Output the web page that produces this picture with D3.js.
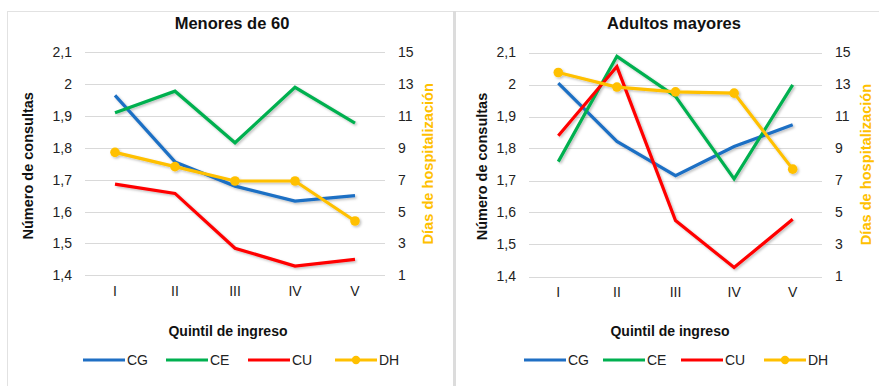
<!DOCTYPE html>
<html><head><meta charset="utf-8">
<script src="https://cdn.jsdelivr.net/npm/d3@7"></script>
<style>
body{margin:0;background:#fff;}
svg{display:block;font-family:"Liberation Sans",Arial,sans-serif;}
</style></head>
<body>
<svg id="c" width="879" height="386"></svg>
<script>
const quintiles = ["I","II","III","IV","V"];
const leftTicks = [1.4,1.5,1.6,1.7,1.8,1.9,2.0,2.1];
const rightTicks = [1,3,5,7,9,11,13,15];
const seriesNames = ["CG","CE","CU","DH"];
const seriesColors = ["#1F6FC4","#00B050","#FF0000","#FFC000"];

// Menores de 60
const m60_CG = [1.965,1.756,1.680,1.633,1.650];
const m60_CE = [1.910,1.978,1.816,1.990,1.878];
const m60_CU = [1.686,1.657,1.485,1.429,1.450];
const m60_DH = [8.72,7.82,6.92,6.92,4.41];

// Adultos mayores
const am_CG = [2.004,1.822,1.715,1.806,1.874];
const am_CE = [1.759,2.088,1.963,1.705,1.999];
const am_CU = [1.840,2.056,1.575,1.428,1.579];
const am_DH = [13.75,12.84,12.54,12.46,7.71];

const svg = d3.select("#c");
const defs = svg.append("defs");
const f = defs.append("filter").attr("id","sh").attr("x","-20%").attr("y","-20%").attr("width","140%").attr("height","140%");
f.append("feDropShadow").attr("dx",1.5).attr("dy",1.5).attr("stdDeviation",1.2).attr("flood-color","#000").attr("flood-opacity",0.25);

// panel frames
svg.append("line").attr("x1",7).attr("x2",879).attr("y1",11.5).attr("y2",11.5).attr("stroke","#e2e2e2").attr("stroke-width",1);
svg.append("line").attr("x1",7.5).attr("x2",7.5).attr("y1",11).attr("y2",386).attr("stroke","#e2e2e2").attr("stroke-width",1);
svg.append("rect").attr("x",453).attr("y",11).attr("width",3).attr("height",375).attr("fill","#dcdcdc");

const panels = [
  {title:"Menores de 60", x0:85, x1:385, y0:52.3, y1:275.3, cx:232, ylabX:28, rlabX:428, lblL:72, lblR:398,
   data:[m60_CG,m60_CE,m60_CU,m60_DH], legX:[83,166,248,335]},
  {title:"Adultos mayores", x0:529, x1:822, y0:52.5, y1:276.5, cx:674, ylabX:482, rlabX:866, lblL:516, lblR:835,
   data:[am_CG,am_CE,am_CU,am_DH], legX:[524,603,681,764]}
];

panels.forEach(p=>{
  const g = svg.append("g");
  const x = d3.scaleBand().domain(quintiles).range([p.x0,p.x1]);
  const yL = d3.scaleLinear().domain([1.4,2.1]).range([p.y1,p.y0]);
  const yR = d3.scaleLinear().domain([1,15]).range([p.y1,p.y0]);
  const fmt = d => d3.format(".1f")(d).replace(".",",").replace(",0","");

  // gridlines
  g.selectAll("line.grid").data(leftTicks).join("line")
    .attr("x1",p.x0).attr("x2",p.x1)
    .attr("y1",d=>Math.round(yL(d))+0.5).attr("y2",d=>Math.round(yL(d))+0.5)
    .attr("stroke","#d9d9d9").attr("stroke-width",1);

  // left axis
  const axL = g.append("g").attr("transform",`translate(${p.lblL+6},0)`)
    .call(d3.axisLeft(yL).tickValues(leftTicks).tickFormat(fmt).tickSize(0).tickPadding(6));
  axL.select(".domain").remove();
  axL.selectAll("text").attr("font-size",14).attr("fill","#222").attr("font-family","Liberation Sans, Arial, sans-serif");

  const axR = g.append("g").attr("transform",`translate(${p.lblR-6},0)`)
    .call(d3.axisRight(yR).tickValues(rightTicks).tickSize(0).tickPadding(6));
  axR.select(".domain").remove();
  axR.selectAll("text").attr("font-size",14).attr("fill","#222").attr("font-family","Liberation Sans, Arial, sans-serif");

  const axB = g.append("g").attr("transform",`translate(0,${p.y1+10})`)
    .call(d3.axisBottom(x).tickSize(0).tickPadding(0));
  axB.select(".domain").remove();
  axB.selectAll("text").attr("font-size",14).attr("fill","#222").attr("dy","0.75em").attr("font-family","Liberation Sans, Arial, sans-serif");

  // titles
  g.append("text").attr("x",p.cx).attr("y",29).attr("text-anchor","middle")
    .attr("font-size",16.5).attr("font-weight","bold").attr("fill","#111").text(p.title);
  g.append("text").attr("x",p.cx-4).attr("y",336).attr("text-anchor","middle")
    .attr("font-size",14).attr("font-weight","bold").attr("fill","#111").text("Quintil de ingreso");
  g.append("text").attr("transform",`translate(${p.ylabX+5},${(p.y0+p.y1)/2 + 2})rotate(-90)`)
    .attr("text-anchor","middle").attr("font-size",14.5).attr("font-weight","bold").attr("fill","#111").text("Número de consultas");
  g.append("text").attr("transform",`translate(${p.rlabX+5},${(p.y0+p.y1)/2 })rotate(-90)`)
    .attr("text-anchor","middle").attr("font-size",14.6).attr("font-weight","bold").attr("fill","#FFC000").text("Días de hospitalización");

  const cxp = d => x(d)+x.bandwidth()/2;
  const lines = g.append("g").attr("filter","url(#sh)");
  p.data.forEach((vals,i)=>{
    const ys = i===3 ? yR : yL;
    const ln = d3.line().x((d,j)=>cxp(quintiles[j])).y(d=>ys(d));
    lines.append("path").datum(vals).attr("d",ln).attr("fill","none")
      .attr("stroke",seriesColors[i]).attr("stroke-width",3.2).attr("stroke-linejoin","miter");
    if(i===3){
      lines.selectAll("circle.m").data(vals).join("circle")
        .attr("cx",(d,j)=>cxp(quintiles[j])).attr("cy",d=>ys(d)).attr("r",4.8).attr("fill",seriesColors[i]);
    }
  });

  // legend
  const leg = g.append("g");
  seriesNames.forEach((s,i)=>{
    const lx = p.legX[i];
    leg.append("line").attr("x1",lx).attr("x2",lx+42).attr("y1",360).attr("y2",360)
      .attr("stroke",seriesColors[i]).attr("stroke-width",3.2);
    if(i===3) leg.append("circle").attr("cx",lx+21).attr("cy",360).attr("r",4.2).attr("fill",seriesColors[i]);
    leg.append("text").attr("x",lx+44).attr("y",365).attr("font-size",14).attr("fill","#222").text(s);
  });
});
</script>
</body></html>
